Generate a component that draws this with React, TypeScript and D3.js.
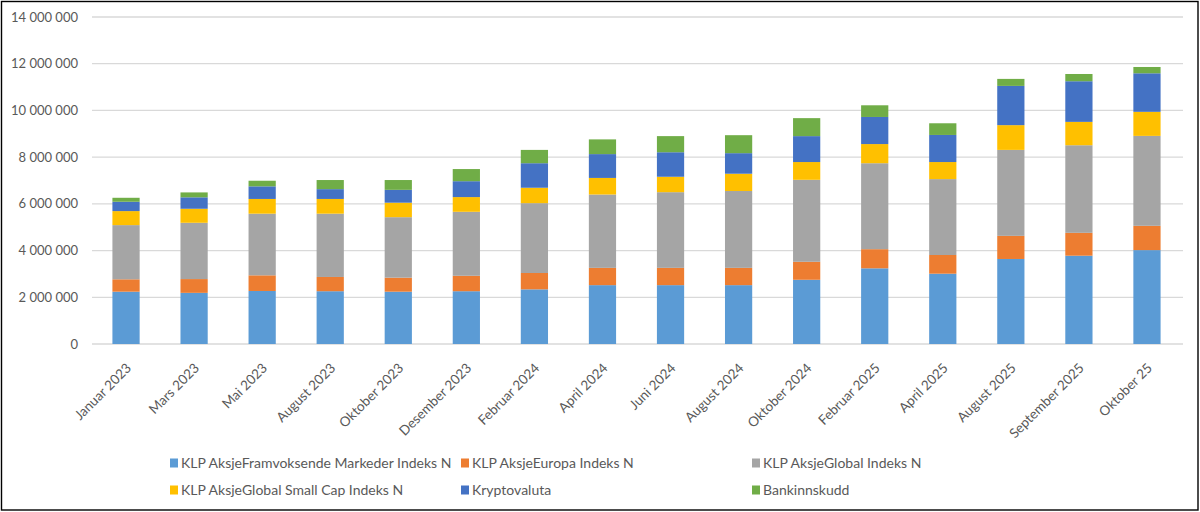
import { useEffect, useRef } from 'react';
import * as d3 from 'd3';

const months = [
  'Januar 2023', 'Mars 2023', 'Mai 2023', 'August 2023', 'Oktober 2023', 'Desember 2023',
  'Februar 2024', 'April 2024', 'Juni 2024', 'August 2024', 'Oktober 2024', 'Februar 2025',
  'April 2025', 'August 2025', 'September 2025', 'Oktober 25',
];

const seriesNames = [
  'KLP AksjeFramvoksende Markeder Indeks N',
  'KLP AksjeEuropa Indeks N',
  'KLP AksjeGlobal Indeks N',
  'KLP AksjeGlobal Small Cap Indeks N',
  'Kryptovaluta',
  'Bankinnskudd',
];

const colors = ['#5B9BD5', '#ED7D31', '#A5A5A5', '#FFC000', '#4472C4', '#70AD47'];

// values in NOK
const framvoksende = [2240000, 2190000, 2270000, 2260000, 2240000, 2260000, 2340000, 2520000, 2520000, 2520000, 2750000, 3240000, 3010000, 3640000, 3780000, 4020000];
const europa = [530000, 590000, 670000, 610000, 600000, 660000, 700000, 740000, 740000, 740000, 770000, 820000, 800000, 990000, 980000, 1040000];
const global = [2320000, 2410000, 2640000, 2710000, 2590000, 2740000, 2990000, 3140000, 3240000, 3290000, 3510000, 3680000, 3250000, 3680000, 3750000, 3850000];
const smallCap = [600000, 600000, 630000, 630000, 620000, 630000, 660000, 710000, 660000, 740000, 760000, 820000, 730000, 1060000, 1000000, 1030000];
const krypto = [400000, 490000, 540000, 420000, 550000, 680000, 1050000, 1020000, 1050000, 880000, 1110000, 1160000, 1160000, 1680000, 1740000, 1650000];
const bank = [170000, 210000, 240000, 390000, 420000, 520000, 570000, 630000, 690000, 770000, 770000, 500000, 500000, 300000, 310000, 270000];

const yTicks = [0, 2000000, 4000000, 6000000, 8000000, 10000000, 12000000, 14000000];

const W = 1200;
const H = 512;
const FONT = 'Lato, "Open Sans", sans-serif';
const TEXT = '#595959';

export default function App() {
  const svgRef = useRef<SVGSVGElement>(null);

  useEffect(() => {
    if (!svgRef.current) return;
    const svg = d3.select(svgRef.current);
    svg.selectAll('*').remove();

    const cols = [framvoksende, europa, global, smallCap, krypto, bank];
    const rows = months.map((m, i) => {
      const r: Record<string, number | string> = { month: m };
      seriesNames.forEach((s, k) => (r[s] = cols[k][i]));
      return r;
    });
    const stacked = d3.stack<Record<string, number | string>>().keys(seriesNames)(rows as any);

    const x = d3.scaleBand<string>().domain(months).range([92, 1181]).paddingInner(0.6).paddingOuter(0.3);
    const y = d3.scaleLinear().domain([0, 14000000]).range([344, 17]);

    svg.append('rect').attr('x', 0).attr('y', 0).attr('width', W).attr('height', H).attr('fill', '#fff');
    svg
      .append('rect')
      .attr('x', 1.5)
      .attr('y', 1.5)
      .attr('width', W - 3.5)
      .attr('height', H - 3.5)
      .attr('fill', 'none')
      .attr('stroke', '#000')
      .attr('stroke-width', 1.4);

    // gridlines
    svg
      .append('g')
      .selectAll('line')
      .data(yTicks)
      .join('line')
      .attr('x1', 92)
      .attr('x2', 1183)
      .attr('y1', (d) => y(d))
      .attr('y2', (d) => y(d))
      .attr('stroke', '#d9d9d9')
      .attr('stroke-width', 1.3);

    const fmt = (v: number) => d3.format(',')(v).replace(/,/g, ' ');
    svg
      .append('g')
      .selectAll('text')
      .data(yTicks)
      .join('text')
      .attr('x', 78)
      .attr('y', (d) => y(d))
      .attr('dy', '0.35em')
      .attr('text-anchor', 'end')
      .attr('font-family', FONT)
      .attr('font-size', 13)
      .attr('fill', TEXT)
      .text((d) => fmt(d));

    // bars
    const bars = svg.append('g');
    stacked.forEach((layer, k) => {
      bars
        .append('g')
        .attr('fill', colors[k])
        .selectAll('rect')
        .data(layer)
        .join('rect')
        .attr('x', (d) => x(d.data.month as string)!)
        .attr('width', x.bandwidth())
        .attr('y', (d) => y(d[1]))
        .attr('height', (d) => y(d[0]) - y(d[1]));
    });

    // x labels
    svg
      .append('g')
      .selectAll('text')
      .data(months)
      .join('text')
      .attr('transform', (d) => `translate(${x(d)! + x.bandwidth() / 2 + 6},${369}) rotate(-45)`)
      .attr('text-anchor', 'end')
      .attr('font-family', FONT)
      .attr('font-size', 13.5)
      .attr('fill', TEXT)
      .text((d) => d);

    // legend
    const legendCols = [170, 461, 752];
    const legendRows = [463, 490];
    const lg = svg.append('g');
    seriesNames.forEach((s, i) => {
      const lx = legendCols[i % 3];
      const ly = legendRows[Math.floor(i / 3)];
      lg.append('rect').attr('x', lx).attr('y', ly - 4.5).attr('width', 8).attr('height', 9).attr('fill', colors[i]);
      lg.append('text')
        .attr('x', lx + 11)
        .attr('y', ly)
        .attr('dy', '0.35em')
        .attr('font-family', FONT)
        .attr('font-size', 14)
        .attr('fill', TEXT)
        .text(s);
    });
  }, []);

  return (
    <div style={{ position: 'absolute', left: 0, top: 0 }}>
      <svg ref={svgRef} width={W} height={H} style={{ display: 'block' }} />
    </div>
  );
}
